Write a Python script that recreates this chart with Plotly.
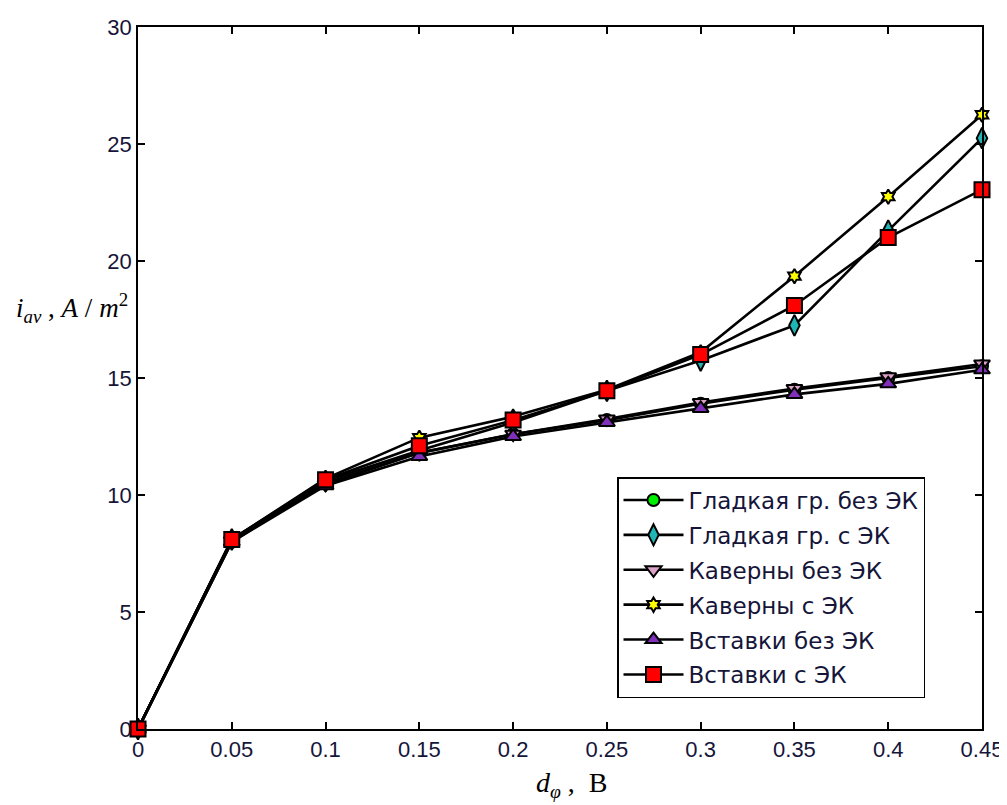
import plotly.graph_objects as go

x_vals = [0, 0.05, 0.1, 0.15, 0.2, 0.25, 0.3, 0.35, 0.4, 0.45]

smooth_no_ek = [0, 8.0, 10.5, 11.8, 12.6, 13.2, 13.9, 14.5, 15.0, 15.5]
smooth_ek = [0, 8.1, 10.6, 11.9, 13.1, 14.45, 15.75, 17.25, 21.3, 25.25]
cav_no_ek = [0, 8.05, 10.45, 11.8, 12.6, 13.25, 13.95, 14.55, 15.05, 15.6]
cav_ek = [0, 8.1, 10.7, 12.45, 13.35, 14.5, 16.1, 19.35, 22.75, 26.25]
ins_no_ek = [0, 8.0, 10.4, 11.65, 12.5, 13.1, 13.7, 14.3, 14.75, 15.35]
ins_ek = [0, 8.1, 10.65, 12.1, 13.2, 14.45, 16.0, 18.1, 21.0, 23.05]

names = ["Гладкая гр. без ЭК", "Гладкая гр. с ЭК", "Каверны без ЭК",
         "Каверны с ЭК", "Вставки без ЭК", "Вставки с ЭК"]
series = [smooth_no_ek, smooth_ek, cav_no_ek, cav_ek, ins_no_ek, ins_ek]
symbols = ["circle", "diamond-tall", "triangle-down", "hexagram", "triangle-up", "square"]
colors = ["#00ee00", "#1fb5b5", "#dba2c8", "#ffff00", "#7f2fb8", "#ff0000"]
sizes = [12, 15, 14, 11, 14, 15]

x_ticks = [0, 0.05, 0.1, 0.15, 0.2, 0.25, 0.3, 0.35, 0.4, 0.45]
x_tick_text = ["0", "0.05", "0.1", "0.15", "0.2", "0.25", "0.3", "0.35", "0.4", "0.45"]
y_ticks = [0, 5, 10, 15, 20, 25, 30]

fig = go.Figure()
for i, (nm, ys, sym, col, sz) in enumerate(zip(names, series, symbols, colors, sizes)):
    fig.add_trace(go.Scatter(
        x=x_vals, y=ys, name=nm, mode="lines+markers", legendgroup="g%d" % i,
        line=dict(color="black", width=2.6),
        marker=dict(symbol=sym, color=col, size=sz, line=dict(color="black", width=2)),
        cliponaxis=False,
    ))

tick_font = dict(family="Liberation Sans, Arial, sans-serif", size=22, color="#15153a")

L, R, T, B = 130, 33, 19, 84
PW = 1007 - L - R
PH = 805 - T - B
X0, Y0 = 138, 729  # screen position of plot origin


def px(sx):
    return (sx - X0) / PW


def py(sy):
    return (Y0 - sy) / PH


fig.update_layout(
    width=1007, height=805,
    margin=dict(l=L, r=R, t=T, b=B),
    paper_bgcolor="white", plot_bgcolor="white",
    showlegend=True,
    legend=dict(
        x=px(617), y=py(477), xanchor="left", yanchor="top",
        bordercolor="black", borderwidth=1.5, bgcolor="white",
        font=dict(family="DejaVu Sans, sans-serif", size=23, color="#15153a"),
        tracegroupgap=2, itemwidth=60,
    ),
    xaxis=dict(
        range=[0, 0.45], tickvals=x_ticks, ticktext=x_tick_text, automargin=False,
        showgrid=False, zeroline=False, showline=True, linecolor="black", linewidth=1.5,
        mirror="ticks", ticks="inside", ticklen=7, tickwidth=1.5, tickcolor="black",
        tickfont=tick_font,
    ),
    yaxis=dict(
        range=[0, 30], tickvals=y_ticks, automargin=False,
        showgrid=False, zeroline=False, showline=True, linecolor="black", linewidth=1.5,
        mirror="ticks", ticks="inside", ticklen=7, tickwidth=1.5, tickcolor="black",
        tickfont=tick_font,
    ),
)

fig.add_annotation(
    xref="paper", yref="paper", x=px(72), y=py(308),
    xanchor="center", yanchor="middle", showarrow=False,
    text="<i>i</i><sub><i>av</i></sub> , <i>A</i> / <i>m</i><sup>2</sup>",
    font=dict(family="Liberation Serif, Times New Roman, serif", size=27, color="black"),
)

fig.add_annotation(
    xref="paper", yref="paper", x=px(572), y=py(784),
    xanchor="center", yanchor="middle", showarrow=False,
    text="<i>d</i><sub><i>φ</i></sub> ,  В",
    font=dict(family="Liberation Serif, Times New Roman, serif", size=28, color="black"),
)

fig.write_html("out.html")
